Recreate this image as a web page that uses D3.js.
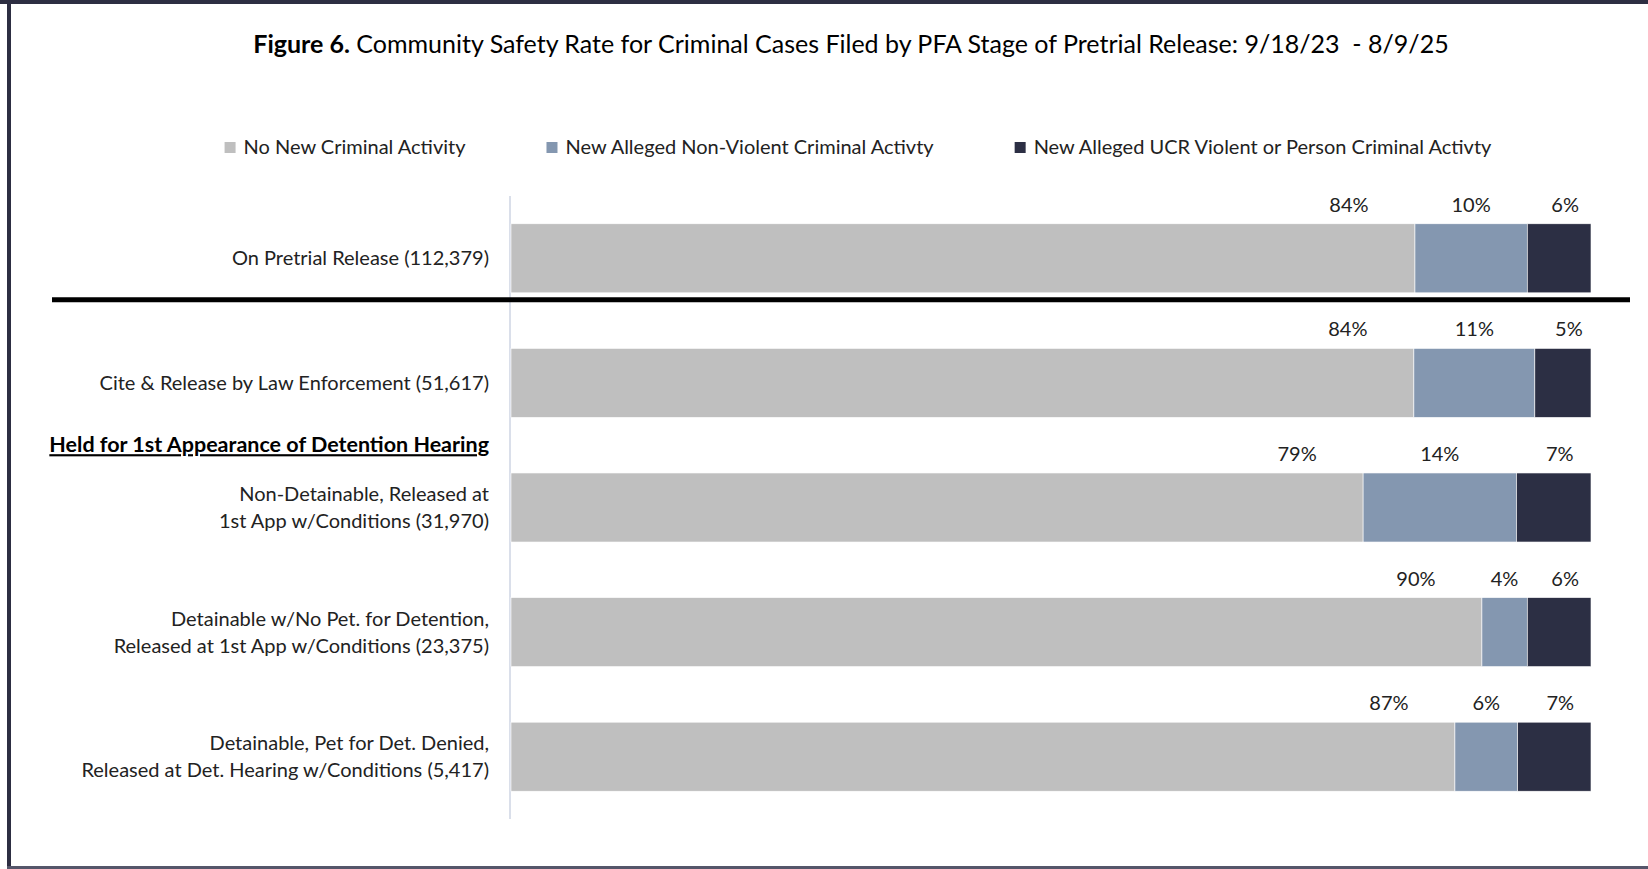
<!DOCTYPE html>
<html>
<head>
<meta charset="utf-8">
<script src="https://cdn.jsdelivr.net/npm/d3@7"></script>
<style>
  body { margin: 0; background: #fff; }
  svg { display: block; font-family: Lato, "Open Sans", sans-serif; }
</style>
</head>
<body>
<div id="chart"></div>
<script>
// data
const categories = [
  "On Pretrial Release (112,379)",
  "Cite & Release by Law Enforcement (51,617)",
  "Non-Detainable, Released at\n1st App w/Conditions (31,970)",
  "Detainable w/No Pet. for Detention,\nReleased at 1st App w/Conditions (23,375)",
  "Detainable, Pet for Det. Denied,\nReleased at Det. Hearing w/Conditions (5,417)"
];
const noNewActivity = [83.7, 83.6, 78.9, 89.9, 87.4];
const nonViolent = [10.4, 11.2, 14.2, 4.2, 5.8];
const violent = [5.9, 5.2, 6.9, 5.9, 6.8];
const seriesNames = [
  "No New Criminal Activity",
  "New Alleged Non-Violent Criminal Activty",
  "New Alleged UCR Violent or Person Criminal Activty"
];
const seriesColors = ["#bfbfbf", "#8497b0", "#2c2f44"];
const groupHeader = "Held for 1st Appearance of Detention Hearing";
const titleBold = "Figure 6.";
const titleRest = " Community Safety Rate for Criminal Cases Filed by PFA Stage of Pretrial Release: 9/18/23  - 8/9/25";

const W = 1648, H = 869;

const svg = d3.select("#chart").append("svg")
  .attr("width", W)
  .attr("height", H);

// frame
svg.append("rect").attr("x", 0).attr("y", 0).attr("width", W).attr("height", 4).style("fill", "#2d2e42");
svg.append("rect").attr("x", 7).attr("y", 0).attr("width", 4).attr("height", H).style("fill", "#2d2e42");
svg.append("rect").attr("x", 7).attr("y", 866).attr("width", W).attr("height", 3).style("fill", "#55566a");

// title
const title = svg.append("text")
  .attr("x", 851)
  .attr("y", 53)
  .attr("text-anchor", "middle")
  .style("font-size", "25px")
  .style("fill", "#000");
title.append("tspan").style("font-weight", "bold").text(titleBold);
title.append("tspan").attr("xml:space", "preserve").text(titleRest);

// stacked data
const rows = categories.map((c, i) => ({
  cat: c,
  vals: [noNewActivity[i], nonViolent[i], violent[i]]
}));

const x = d3.scaleLinear().domain([0, 100]).range([511, 1591]);
const y = d3.scaleBand()
  .domain(categories)
  .range([196, 819])
  .paddingInner(0.446)
  .paddingOuter(0.223);

// legend
const legend = svg.append("g");
let lx = 0;
seriesNames.forEach((name, i) => {
  legend.append("rect")
    .attr("x", lx)
    .attr("y", 142)
    .attr("width", 11)
    .attr("height", 11)
    .style("fill", seriesColors[i]);
  const t = legend.append("text")
    .attr("x", lx + 19)
    .attr("y", 154)
    .style("font-size", "20px")
    .style("fill", "#222")
    .text(name);
  lx += 19 + t.node().getComputedTextLength() + 81;
});
const legendW = lx - 81;
legend.attr("transform", `translate(${858 - legendW / 2},0)`);

// axis line
svg.append("line")
  .attr("x1", 510).attr("x2", 510)
  .attr("y1", 196).attr("y2", 819)
  .style("stroke", "#dadfea")
  .style("stroke-width", 2);

// bars
const rowG = svg.selectAll(".row")
  .data(rows)
  .enter().append("g")
  .attr("class", "row");

rowG.each(function(d) {
  const g = d3.select(this);
  let cum = 0;
  d.vals.forEach((v, i) => {
    const x0 = x(cum), x1 = x(cum + v);
    g.append("rect")
      .attr("x", x0)
      .attr("y", y(d.cat))
      .attr("width", x1 - x0)
      .attr("height", y.bandwidth())
      .style("fill", seriesColors[i])
      .style("stroke", "#fff")
      .style("stroke-width", 0.6);
    // label placement: first series sits near its end, others centred
    let lxPos = (x0 + x1) / 2;
    if (i == 0) lxPos = x1 - 66;
    if (i == 2) lxPos = (x0 + x1) / 2 + 6;
    g.append("text")
      .attr("x", lxPos)
      .attr("y", y(d.cat) - 12)
      .attr("text-anchor", "middle")
      .style("font-size", "20px")
      .style("fill", "#222")
      .text(Math.round(v) + "%");
    cum += v;
  });

  // category label
  const lines = d.cat.split("\n");
  const cy = y(d.cat) + y.bandwidth() / 2;
  const lh = 27;
  lines.forEach((ln, k) => {
    g.append("text")
      .attr("x", 489)
      .attr("y", cy + (k - (lines.length - 1) / 2) * lh + 7)
      .attr("text-anchor", "end")
      .style("font-size", "20px")
      .style("fill", "#222")
      .text(ln);
  });
});

// separator under the overall row
svg.append("line")
  .attr("x1", 52).attr("x2", 1630)
  .attr("y1", y(categories[0]) + y.bandwidth() + 7)
  .attr("y2", y(categories[0]) + y.bandwidth() + 7)
  .style("stroke", "#000")
  .style("stroke-width", 5);

// group header
svg.append("text")
  .attr("x", 489)
  .attr("y", y(categories[2]) - y.step() * y.paddingInner() / 2 + 7)
  .attr("text-anchor", "end")
  .style("font-size", "21.5px")
  .style("font-weight", "bold")
  .style("text-decoration", "underline")
  .style("fill", "#000")
  .text(groupHeader);
</script>
</body>
</html>
